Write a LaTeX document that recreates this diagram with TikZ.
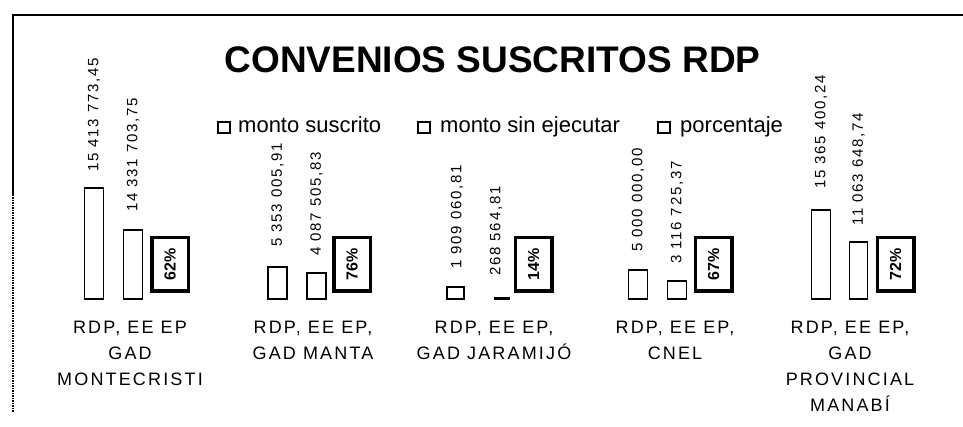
\documentclass[tikz,border=0pt]{standalone}
\usepackage{fontspec}
\setmainfont{Liberation Sans}
\newfontfamily\spacedfont[LetterSpace=12]{Liberation Sans}

\begin{document}
\begin{tikzpicture}[x=1pt,y=-1pt,
  frameline/.style={line width=1.5pt},
  bar/.style={draw=black,fill=white,line width=1.2pt},
  legsq/.style={draw=black,fill=white,line width=1.2pt},
  legtxt/.style={anchor=base west,inner sep=0pt,font=\fontsize{22}{26}\selectfont},
  val/.style={anchor=west,rotate=90,inner sep=1pt,font=\spacedfont\fontsize{15}{18}\selectfont},
  pct/.style={draw=black,fill=white,line width=3.5pt,rotate=90,minimum width=53.5pt,
    minimum height=36.5pt,inner sep=0pt,font=\bfseries\fontsize{16}{18}\selectfont},
  cat/.style={anchor=north,inner sep=0pt,align=center,font=\spacedfont\fontsize{18}{26}\selectfont}]
\useasboundingbox (0,0) rectangle (963,427);

% frame of the chart area
\draw[frameline] (13,195) -- (13,15) -- (963,15);
\draw[frameline,densely dotted] (13,195) -- (13,412);

% title and legend
\node[inner sep=0pt,font=\bfseries\fontsize{37}{40}\selectfont] (title) at (492.5,60) {CONVENIOS SUSCRITOS RDP};
\draw[legsq,line width=2pt] (218,122) rectangle (230,133);
\node[legtxt] (leg1) at (238,133) {monto suscrito};
\draw[legsq] (418,122) rectangle (430,133);
\node[legtxt] (leg2) at (440,133) {monto sin ejecutar};
\draw[legsq] (658,122) rectangle (670,133);
\node[legtxt] (leg3) at (680,133) {porcentaje};

% RDP, EE EP GAD MONTECRISTI
\draw[bar] (84.5,299) rectangle (103.5,188);
\draw[bar] (123.5,299) rectangle (142.5,230);
\node[val] (va1) at (94,173) {15 413 773,45};
\node[val] (vb1) at (133,213) {14 331 703,75};
\node[pct] (pc1) at (170,264.5) {62\%};
\node[cat] (cat1) at (130,320.5) {RDP, EE EP\\GAD\\MONTECRISTI};

% RDP, EE EP, GAD MANTA
\draw[bar] (268,299) rectangle (287,267);
\draw[bar] (307,299) rectangle (326,273);
\node[val] (va2) at (277.5,248) {5 353 005,91};
\node[val] (vb2) at (316.5,257) {4 087 505,83};
\node[pct] (pc2) at (352,264.5) {76\%};
\node[cat] (cat2) at (313,320.5) {RDP, EE EP,\\GAD MANTA};

% RDP, EE EP, GAD JARAMIJO
\draw[bar] (447,299) rectangle (464,287);
\draw[bar] (494.5,299) rectangle (509.5,297.5);
\node[val] (va3) at (457,270) {1 909 060,81};
\node[val] (vb3) at (496,277) {268 564,81};
\node[pct] (pc3) at (533.5,264.5) {14\%};
\node[cat] (cat3) at (494,320.5) {RDP, EE EP,\\GAD JARAMIJÓ};

% RDP, EE EP, CNEL
\draw[bar] (628.5,299) rectangle (647.5,270);
\draw[bar] (667.5,299) rectangle (686.5,281);
\node[val] (va4) at (638,253) {5 000 000,00};
\node[val] (vb4) at (677,265) {3 116 725,37};
\node[pct] (pc4) at (713.5,264.5) {67\%};
\node[cat] (cat4) at (675,320.5) {RDP, EE EP,\\CNEL};

% RDP, EE EP, GAD PROVINCIAL MANABI
\draw[bar] (811.5,299) rectangle (830.5,210);
\draw[bar] (849.5,299) rectangle (867.5,242);
\node[val] (va5) at (821,190) {15 365 400,24};
\node[val] (vb5) at (858.5,227) {11 063 648,74};
\node[pct] (pc5) at (895.5,264.5) {72\%};
\node[cat] (cat5) at (850,320.5) {RDP, EE EP,\\GAD\\PROVINCIAL\\MANABÍ};
\end{tikzpicture}
\end{document}
